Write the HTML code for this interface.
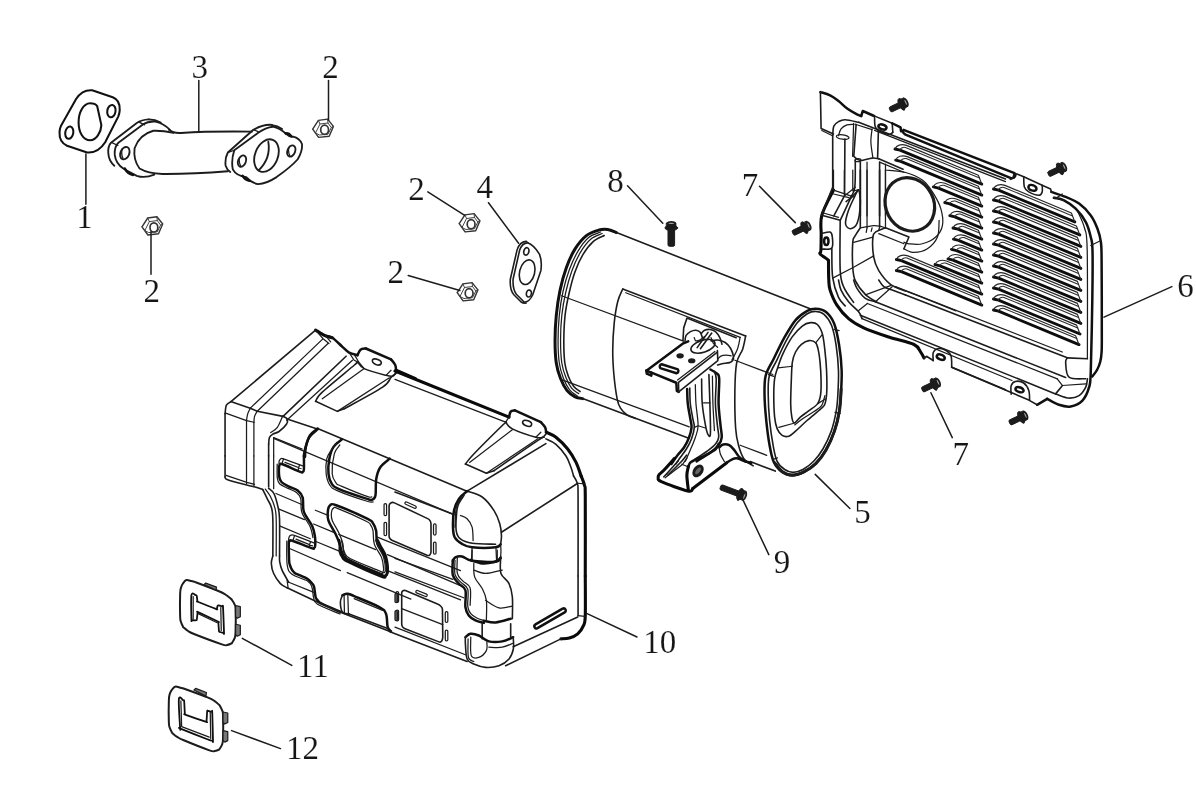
<!DOCTYPE html>
<html><head><meta charset="utf-8"><title>Muffler assembly</title>
<style>
html,body{margin:0;padding:0;background:#fff;}
body{width:1196px;height:811px;overflow:hidden;}
svg{display:block;}
.d path,.d line,.d ellipse,.d circle,.d polyline,.d rect,.d polygon{fill:none;stroke:#1c1c1c;stroke-width:1.6;vector-effect:non-scaling-stroke;stroke-linecap:round;stroke-linejoin:round;}
.d .pp path,.d .pp ellipse{stroke-width:1.85;}
.d .pp .t{stroke-width:1.3;}
.d .pp .k{stroke-width:2.5;}
.d .t{stroke-width:1.25;}
.d .k{stroke-width:2.5;stroke:#101010;}
.d .kk{stroke-width:3.1;stroke:#0a0a0a;}
.d .w{fill:#fff;}
.d .b{fill:#1c1c1c;}
.d .ld{stroke-width:1.5;}
text{font-family:"Liberation Serif",serif;font-size:33px;fill:#161616;text-anchor:middle;stroke:#fff;stroke-width:0.12px;}
</style></head><body>
<svg class="d" width="1196" height="811" viewBox="0 0 1196 811">
<rect x="0" y="0" width="1196" height="811" style="fill:#fff;stroke:none"/>
<!-- 00_defs.svg -->
<defs>
<g id="nut" style="stroke:#333">
<path style="stroke-width:1.4;stroke:#333" d="M-10.3,0.2 L-4.6,-8.6 L4.6,-9.9 L10.4,-2.6 L6.2,7.2 L-4.4,8.4 Z"/>
<path style="stroke-width:1;stroke:#444" d="M-10.3,0.2 L-7.5,4 L-4.4,8.4 M-7.5,4 L-3,-5 L-4.6,-8.6 M-3,-5 L5,-6 L8.3,-1.5 L5,5.2 L-3.5,6 L-7.5,4 M5,-6 L4.6,-9.9 M8.3,-1.5 L10.4,-2.6"/>
<ellipse style="stroke-width:1.7;stroke:#333" cx="1.6" cy="0.8" rx="3.9" ry="4.6"/>
</g>
<g id="boltS">
<rect class="b" x="-2.7" y="7" width="5.4" height="12.5" rx="1.5" style="stroke-width:1"/>
<ellipse class="b" cx="0" cy="6.6" rx="6.3" ry="2.7" style="stroke-width:1"/>
<rect class="b" x="-4.6" y="1.8" width="9.2" height="4" style="stroke-width:1"/>
<ellipse cx="0" cy="2" rx="3.9" ry="1.5" style="fill:#aaa;stroke-width:1.8"/>
</g>
<g id="boltL">
<rect class="b" x="-3.3" y="7" width="6.6" height="18" rx="1.5" style="stroke-width:1"/>
<ellipse class="b" cx="0" cy="6.6" rx="6.3" ry="2.7" style="stroke-width:1"/>
<rect class="b" x="-4.6" y="1.8" width="9.2" height="4" style="stroke-width:1"/>
<ellipse cx="0" cy="2" rx="3.9" ry="1.5" style="fill:#aaa;stroke-width:1.8"/>
</g>
<g id="boltX">
<rect class="b" x="-2.7" y="7" width="5.4" height="20.5" rx="1.5" style="stroke-width:1"/>
<ellipse class="b" cx="0" cy="6.6" rx="6.3" ry="2.7" style="stroke-width:1"/>
<rect class="b" x="-4.6" y="1.8" width="9.2" height="4" style="stroke-width:1"/>
<ellipse cx="0" cy="2" rx="3.9" ry="1.5" style="fill:#aaa;stroke-width:1.8"/>
</g>
</defs>

<!-- 10_gasket1.svg -->
<g transform="translate(50,80) scale(0.100334)">
<path style="stroke-width:2.05;stroke:#111" d="M110,455 L260,190 Q320,95 420,102 L625,172 Q700,200 695,300 Q692,340 680,365 L550,620 Q480,730 370,722 L170,655 Q90,620 95,520 Q97,485 110,455 Z"/>
<path style="stroke-width:2.05;stroke:#111" d="M400,232 C330,232 285,330 285,420 C285,520 330,600 400,600 C460,600 510,520 512,450 L470,260 C455,240 430,232 400,232 Z"/>
<ellipse style="stroke-width:2.05;stroke:#111" cx="612" cy="310" rx="41" ry="62" transform="rotate(10 612 310)"/>
<ellipse style="stroke-width:2.05;stroke:#111" cx="192" cy="525" rx="40" ry="62" transform="rotate(10 192 525)"/>
</g>

<!-- 11_pipe3.svg -->
<g transform="translate(100,105) scale(0.183946)" class="pp">
<!-- left flange front face -->
<path d="M380,135 Q345,98 300,90 Q260,88 235,105 L100,205 Q78,225 80,270 Q85,320 130,348 L200,385 Q245,400 295,378"/>
<!-- left flange back edge -->
<path d="M265,78 Q225,80 200,98 L60,205 Q42,225 45,262 Q48,305 78,330"/>
<path d="M265,78 Q300,78 330,95"/>
<path class="t" d="M210,92 L242,108 M62,203 L97,220"/>
<ellipse cx="135" cy="262" rx="24" ry="35" transform="rotate(22 135 262)"/>
<path class="t" d="M122,238 Q112,262 125,290"/>
<path class="k" d="M135,345 Q150,375 180,380"/>
<!-- pipe body -->
<path d="M400,152 Q340,138 290,140 Q215,160 188,235 Q180,300 215,345 Q260,372 340,375 Q500,376 695,360"/>
<path d="M375,135 Q400,155 440,152 Q600,142 825,145"/>
<!-- right flange front -->
<path d="M730,246 L862,150 Q900,122 940,118 Q975,125 1010,155 Q1030,175 1050,172 Q1085,180 1098,212 Q1102,250 1075,295 Q1040,335 960,392 Q905,428 860,430 Q825,425 795,392 Q740,385 722,350 Q712,300 730,246 Z"/>
<path d="M935,108 Q885,104 832,136 L695,258 Q678,290 683,330 Q690,352 708,364"/>
<path d="M935,110 Q965,112 990,130"/>
<path class="t" d="M836,134 L866,148 M697,257 L730,246"/>
<ellipse cx="905" cy="275" rx="62" ry="92" transform="rotate(22 905 275)"/>
<path d="M915,200 Q930,290 862,355"/>
<ellipse cx="772" cy="305" rx="21" ry="32" transform="rotate(22 772 305)"/>
<ellipse cx="1040" cy="250" rx="21" ry="32" transform="rotate(22 1040 250)"/>
<path class="t" d="M760,285 Q752,305 764,330 M1028,230 Q1020,252 1032,276"/>
<path class="k" d="M775,385 Q790,408 812,412"/>
<path class="k" d="M1010,155 Q1025,150 1040,170"/>
</g>

<!-- 12_nuts.svg -->
<use href="#nut" x="152.3" y="226.6"/>
<use href="#nut" x="323" y="129"/>
<use href="#nut" x="469.5" y="223.5"/>
<use href="#nut" x="467.5" y="292.5"/>

<!-- 13_gasket4.svg -->
<g transform="translate(340,140) scale(0.250836)">
<path d="M748,410 Q772,418 795,455 Q806,480 801,520 L768,618 Q752,650 733,645 L703,615 Q688,595 690,555 L716,440 Q726,410 748,410 Z"/>
<path d="M742,404 Q716,406 706,438 L679,555 Q676,598 694,618 L722,646 Q732,652 742,650"/>
<path class="t" d="M742,404 L750,410"/>
<ellipse cx="746" cy="527" rx="30" ry="50" transform="rotate(14 746 527)"/>
<ellipse cx="743" cy="444" rx="10" ry="15" transform="rotate(14 743 444)"/>
<ellipse cx="753" cy="612" rx="10" ry="14" transform="rotate(14 753 612)"/>
</g>

<!-- 20_muffler.svg -->
<g transform="translate(545,215) scale(0.250836)">
<!-- left cap rim -->
<path class="k" style="stroke-width:3" d="M285,70 C279.2,68.0 261.7,59.7 250,58 C238.3,56.3 229.2,56.0 215,60 C200.8,64.0 180.8,69.5 165,82 C149.2,94.5 133.3,113.7 120,135 C106.7,156.3 95.0,182.5 85,210 C75.0,237.5 66.7,268.3 60,300 C53.3,331.7 48.3,366.7 45,400 C41.7,433.3 40.0,468.3 40,500 C40.0,531.7 41.3,564.7 45,590 C48.7,615.3 54.8,633.7 62,652 C69.2,670.3 78.3,687.8 88,700 C97.7,712.2 109.7,719.7 120,725 C130.3,730.3 145.0,730.8 150,732"/>
<path class="t" d="M222,68 C214.0,71.7 189.2,77.2 174,90 C158.8,102.8 143.8,123.7 131,145 C118.2,166.3 106.8,191.5 97,218 C87.2,244.5 78.7,273.7 72,304 C65.3,334.3 60.3,367.3 57,400 C53.7,432.7 52.0,468.3 52,500 C52.0,531.7 53.5,565.0 57,590 C60.5,615.0 66.2,632.2 73,650 C79.8,667.8 88.8,685.2 98,697 C107.2,708.8 123.0,717.0 128,721"/>
<path class="t" d="M228,74 C220.3,77.8 196.7,84.2 182,97 C167.3,109.8 152.5,130.0 140,151 C127.5,172.0 116.5,197.0 107,223 C97.5,249.0 89.7,277.5 83,307 C76.3,336.5 70.5,367.8 67,400 C63.5,432.2 62.0,468.3 62,500 C62.0,531.7 63.5,565.5 67,590 C70.5,614.5 76.5,630.3 83,647 C89.5,663.7 97.5,679.2 106,690 C114.5,700.8 129.3,708.3 134,712"/>
<path d="M236,82 C228.7,86.0 206.2,93.3 192,106 C177.8,118.7 163.2,137.7 151,158 C138.8,178.3 128.2,202.3 119,228 C109.8,253.7 102.5,283.3 96,312 C89.5,340.7 83.5,368.7 80,400 C76.5,431.3 75.2,468.3 75,500 C74.8,531.7 76.0,566.2 79,590 C82.0,613.8 87.2,627.5 93,643 C98.8,658.5 106.2,672.8 114,683 C121.8,693.2 135.7,700.5 140,704"/>
<!-- body lines -->
<path d="M285,70 L1062,376"/>
<path class="t" d="M66,322 L552,503 M757,579 L908,636"/>
<path class="t" d="M63,655 L575,845 M778,918 L884,958"/>
<path d="M150,732 L568,888 M818,983 L918,1021"/>
<!-- heat panel -->
<path d="M800,482 L310,295" />
<path d="M310,295 C306.7,303.3 295.7,322.5 290,345 C284.3,367.5 279.3,397.5 276,430 C272.7,462.5 270.2,505.0 270,540 C269.8,575.0 272.0,607.5 275,640 C278.0,672.5 283.7,713.3 288,735 C292.3,756.7 294.5,759.7 301,770 C307.5,780.3 317.2,790.2 327,797 C336.8,803.8 354.5,808.7 360,811"/>
<path class="t" d="M322,310 L778,488"/>
<path d="M800,482 C798.0,490.8 794.0,517.0 788,535 C782.0,553.0 769.2,562.5 764,590 C758.8,617.5 757.7,656.7 757,700 C756.3,743.3 757.5,813.3 760,850 C762.5,886.7 766.2,899.2 772,920 C777.8,940.8 785.3,961.7 795,975 C804.7,988.3 824.2,995.8 830,1000"/>
<path class="t" d="M778,488 C776.2,495.8 772.5,520.0 767,535 C761.5,550.0 748.7,570.8 745,578"/>
<!-- recess -->
<path d="M550,500 L553,450 L566,411 L762,489"/>
</g>

<!-- 21_muffler_cap.svg -->
<g transform="translate(700,295) scale(0.167645)">
<!-- outer rim -->
<path class="k" d="M690,82 C708.3,82.8 731.7,85.3 750,100 C768.3,114.7 786.7,136.7 800,170 C813.3,203.3 822.5,253.3 830,300 C837.5,346.7 843.3,400.0 845,450 C846.7,500.0 842.5,559.0 840,600 C837.5,641.0 836.7,660.0 830,696 C823.3,732.0 813.3,777.7 800,816 C786.7,854.3 768.3,894.3 750,926 C731.7,957.7 711.7,984.3 690,1006 C668.3,1027.7 643.3,1044.3 620,1056 C596.7,1067.7 571.7,1076.0 550,1076 C528.3,1076.0 508.3,1069.3 490,1056 C471.7,1042.7 452.5,1022.7 440,996 C427.5,969.3 422.5,937.7 415,896 C407.5,854.3 400.0,795.3 395,746 C390.0,696.7 385.5,644.3 385,600 C384.5,555.7 382.8,516.7 392,480 C401.2,443.3 422.0,416.7 440,380 C458.0,343.3 478.3,298.3 500,260 C521.7,221.7 546.7,177.5 570,150 C593.3,122.5 620.0,106.3 640,95 C660.0,83.7 671.7,81.2 690,82 Z"/>
<path d="M690,98 C706.7,98.5 724.2,101.0 740,115 C755.8,129.0 773.0,151.2 785,182 C797.0,212.8 805.2,255.3 812,300 C818.8,344.7 824.3,400.0 826,450 C827.7,500.0 824.3,559.0 822,600 C819.7,641.0 818.5,660.7 812,696 C805.5,731.3 796.0,775.2 783,812 C770.0,848.8 751.5,887.0 734,917 C716.5,947.0 698.0,971.3 678,992 C658.0,1012.7 634.5,1030.0 614,1041 C593.5,1052.0 573.2,1058.0 555,1058 C536.8,1058.0 520.8,1052.0 505,1041 C489.2,1030.0 471.5,1016.2 460,992 C448.5,967.8 443.5,937.0 436,896 C428.5,855.0 419.8,795.3 415,746 C410.2,696.7 407.3,643.5 407,600 C406.7,556.5 404.2,520.8 413,485 C421.8,449.2 443.0,420.8 460,385 C477.0,349.2 495.0,306.7 515,270 C535.0,233.3 559.2,191.3 580,165 C600.8,138.7 621.7,123.2 640,112 C658.3,100.8 673.3,97.5 690,98 Z"/>
<path d="M842,560 C840.3,581.7 838.7,648.0 832,690 C825.3,732.0 815.3,773.0 802,812 C788.7,851.0 770.3,892.0 752,924 C733.7,956.0 713.8,982.3 692,1004 C670.2,1025.7 644.7,1042.3 621,1054 C597.3,1065.7 571.5,1074.0 550,1074 C528.5,1074.0 509.5,1066.3 492,1054 C474.5,1041.7 452.8,1009.0 445,1000" style="stroke-width:3"/>
<!-- inner face -->
<path d="M660,165 C675.0,163.5 688.3,164.8 700,176 C711.7,187.2 722.5,206.3 730,232 C737.5,257.7 740.8,293.7 745,330 C749.2,366.3 753.2,408.3 755,450 C756.8,491.7 757.7,546.7 756,580 C754.3,613.3 751.0,633.3 745,650 C739.0,666.7 737.5,663.8 720,680 C702.5,696.2 665.0,725.0 640,747 C615.0,769.0 588.3,796.2 570,812 C551.7,827.8 543.3,837.8 530,842 C516.7,846.2 501.7,844.5 490,837 C478.3,829.5 467.5,815.3 460,797 C452.5,778.7 448.3,759.8 445,727 C441.7,694.2 440.0,637.8 440,600 C440.0,562.2 441.3,527.0 445,500 C448.7,473.0 453.7,463.0 462,438 C470.3,413.0 480.3,381.3 495,350 C509.7,318.7 530.8,277.5 550,250 C569.2,222.5 591.7,199.2 610,185 C628.3,170.8 645.0,166.5 660,165 Z"/>
<!-- hole -->
<path d="M650,272 C664.2,270.3 680.7,275.3 690,285 C699.3,294.7 701.7,310.8 706,330 C710.3,349.2 713.3,371.7 716,400 C718.7,428.3 721.3,468.3 722,500 C722.7,531.7 723.3,565.3 720,590 C716.7,614.7 713.7,631.3 702,648 C690.3,664.7 667.0,676.8 650,690 C633.0,703.2 614.7,714.8 600,727 C585.3,739.2 570.7,762.5 562,763 C553.3,763.5 551.5,748.8 548,730 C544.5,711.2 541.5,688.3 541,650 C540.5,611.7 543.3,541.7 545,500 C546.7,458.3 546.8,426.7 551,400 C555.2,373.3 561.0,357.5 570,340 C579.0,322.5 591.7,306.3 605,295 C618.3,283.7 635.8,273.7 650,272 Z"/>
<path class="t" d="M465,435 L551,425 M690,285 L730,235 M702,648 L748,620 M560,765 L470,790"/>
<path class="t" d="M745,600 C741.7,610.0 735.8,644.2 725,660 C714.2,675.8 699.2,681.7 680,695 C660.8,708.3 629.2,726.7 610,740 C590.8,753.3 572.5,769.2 565,775"/>
<path class="t" d="M800,205 L830,212 M408,475 L440,485 M435,980 L462,972 M805,700 L836,706"/>
</g>

<!-- 22_bracket.svg -->
<!-- bracket top : Z6 -->
<g transform="translate(635,305) scale(0.108696)">
<!-- white mask for plate over lines -->
<path class="w" d="M105,600 L470,340 L760,415 L760,510 L400,800 L385,715 Z" style="stroke:none"/>
<path class="k" d="M105,605 L445,352 L490,335"/>
<path class="k" d="M105,600 L108,632 L150,650 L152,622 L380,715 L385,790 L402,800"/>
<path class="k" d="M108,605 L150,622"/>
<path d="M402,800 L400,712 L752,438"/>
<path d="M402,800 L762,512 L758,420"/>
<path class="t" d="M392,690 L735,428"/>
<ellipse class="b" cx="415" cy="468" rx="27" ry="16"/>
<ellipse class="b" cx="522" cy="513" rx="27" ry="16"/>
<path class="k" d="M245,545 L395,593 A22,22 0 0 1 382,628 L232,580 A22,22 0 0 1 245,545 Z" style="stroke-width:2.4"/>
<!-- bolt head / weld -->
<ellipse class="w" cx="625" cy="380" rx="115" ry="55" transform="rotate(-18 625 380)"/>
<path d="M460,330 C461.7,321.7 461.7,294.2 470,280 C478.3,265.8 495.0,253.0 510,245 C525.0,237.0 545.0,231.2 560,232 C575.0,232.8 590.0,238.7 600,250 C610.0,261.3 616.7,291.7 620,300"/>
<path d="M610,262 C615.0,257.0 626.7,238.2 640,232 C653.3,225.8 673.3,222.8 690,225 C706.7,227.2 725.0,232.5 740,245 C755.0,257.5 770.0,280.8 780,300 C790.0,319.2 796.7,350.0 800,360"/>
<path d="M700,330 C710.0,328.7 738.3,319.5 760,322 C781.7,324.5 810.0,332.0 830,345 C850.0,358.0 867.5,379.2 880,400 C892.5,420.8 901.7,451.7 905,470 C908.3,488.3 905.8,500.0 900,510 C894.2,520.0 886.7,525.0 870,530 C853.3,535.0 818.3,536.3 800,540 C781.7,543.7 766.7,550.0 760,552"/>
<path class="t" d="M760,500 C765.0,495.0 776.7,476.3 790,470 C803.3,463.7 824.2,462.3 840,462 C855.8,461.7 877.5,467.0 885,468"/>
<path d="M572,392 L672,252 M602,402 L706,258"/>
<path class="t" d="M545,300 C547.5,305.0 550.8,326.7 560,330 C569.2,333.3 586.7,326.7 600,320 C613.3,313.3 633.3,295.0 640,290"/>
<path class="t" d="M700,300 C703.3,308.3 710.0,335.0 720,350 C730.0,365.0 753.3,383.3 760,390"/>
</g>
<!-- strap: Z7 -->
<g transform="translate(640,362) scale(0.125733)">
<path class="k" d="M375,215 C375.8,234.2 375.8,290.8 380,330 C384.2,369.2 395.0,418.3 400,450 C405.0,481.7 411.7,495.0 410,520 C408.3,545.0 400.0,573.3 390,600 C380.0,626.7 365.0,656.7 350,680 C335.0,703.3 316.7,718.2 300,740 C283.3,761.8 258.3,799.2 250,811"/>
<path d="M396,208 C396.7,228.3 396.0,289.7 400,330 C404.0,370.3 414.7,418.3 420,450 C425.3,481.7 433.7,493.3 432,520 C430.3,546.7 420.3,581.7 410,610 C399.7,638.3 385.0,665.0 370,690 C355.0,715.0 334.2,739.8 320,760 C305.8,780.2 290.8,802.5 285,811"/>
<path class="t" d="M440,180 C440.8,205.0 441.3,275.8 445,330 C448.7,384.2 462.8,460.0 462,505 C461.2,550.0 450.3,567.5 440,600 C429.7,632.5 413.3,668.3 400,700 C386.7,731.7 366.7,775.0 360,790"/>
<path d="M490,135 C490.8,167.5 490.0,269.2 495,330 C500.0,390.8 512.5,459.2 520,500 C527.5,540.8 533.3,563.3 540,575 C546.7,586.7 557.3,609.2 560,570 C562.7,530.8 558.0,418.3 556,340 C554.0,261.7 549.3,140.0 548,100"/>
<path class="t" d="M505,325 L558,325"/>
<path class="t" d="M576,112 C576.7,148.3 577.3,257.8 580,330 C582.7,402.2 590.0,509.2 592,545"/>
<path class="k" d="M560,60 C568.7,65.3 600.3,79.5 612,92 C623.7,104.5 627.8,95.3 630,135 C632.2,174.7 623.3,269.2 625,330 C626.7,390.8 635.8,455.0 640,500 C644.2,545.0 652.5,573.3 650,600 C647.5,626.7 640.0,640.0 625,660 C610.0,680.0 589.2,698.3 560,720 C530.8,741.7 468.3,778.3 450,790"/>
<path d="M588,72 C591.0,82.0 604.0,89.0 606,132 C608.0,175.0 598.5,268.7 600,330 C601.5,391.3 610.7,455.3 615,500 C619.3,544.7 628.2,573.0 626,598 C623.8,623.0 616.3,632.2 602,650 C587.7,667.8 567.0,685.0 540,705 C513.0,725.0 456.7,759.2 440,770"/>
<path class="t" d="M432,520 L462,507 M462,507 L520,525"/>
</g>
<!-- foot: Z8 -->
<g transform="translate(645,425) scale(0.125733)">
<path class="kk" d="M235,265 C220.8,280.8 170.5,338.3 150,360 C129.5,381.7 119.5,385.0 112,395 C104.5,405.0 102.0,410.8 105,420 C108.0,429.2 90.8,432.5 130,450 C169.2,467.5 298.3,515.8 340,525 C381.7,534.2 373.3,508.3 380,505"/>
<path d="M330,240 C323.3,248.3 315.0,263.3 290,290 C265.0,316.7 198.3,381.7 180,400"/>
<path class="k" d="M585,150 C580.8,157.5 579.2,179.2 560,195 C540.8,210.8 496.7,231.7 470,245 C443.3,258.3 418.3,265.8 400,275 C381.7,284.2 369.2,290.8 360,300 C350.8,309.2 347.5,325.0 345,330"/>
<path class="kk" d="M380,505 L650,300"/>
<path class="k" d="M650,300 C656.7,295.8 676.7,280.8 690,275 C703.3,269.2 711.7,262.5 730,265 C748.3,267.5 780.8,283.8 800,290 C819.2,296.2 837.5,300.0 845,302"/>
<path d="M265,285 C250.8,300.8 199.2,358.8 180,380 C160.8,401.2 155.0,406.7 150,412"/>
<path class="t" d="M160,420 L300,312 L335,262"/>
<path class="t" d="M292,312 L342,332"/>
<path class="kk" d="M345,330 C343.0,341.7 333.0,368.3 333,400 C333.0,431.7 343.0,500.0 345,520"/>
<ellipse cx="422" cy="365" rx="27" ry="44" transform="rotate(35 422 365)" style="stroke-width:3;fill:#666"/>
<path class="k" d="M590,178 C595.3,174.2 608.7,158.0 622,155 C635.3,152.0 655.3,152.5 670,160 C684.7,167.5 696.7,184.2 710,200 C723.3,215.8 735.0,240.0 750,255 C765.0,270.0 791.7,284.2 800,290"/>
<path class="t" d="M590,180 C591.7,188.7 593.0,213.3 600,232 C607.0,250.7 626.7,282.0 632,292"/>
</g>

<!-- 30_bolts.svg -->
<use href="#boltL" transform="translate(671.3,221.3)"/>
<use href="#boltS" transform="translate(810.4,224.8) rotate(64.5)"/>
<use href="#boltS" transform="translate(907.5,101.5) rotate(64.5)"/>
<use href="#boltS" transform="translate(1066,166) rotate(64.5)"/>
<use href="#boltS" transform="translate(939.8,381.5) rotate(64.5)"/>
<use href="#boltS" transform="translate(1027.2,414.5) rotate(64.5)"/>
<use href="#boltX" transform="translate(746.2,496.7) rotate(110.6)"/>

<!-- 40_cover_louvers.svg -->
<g>
<path class="k" style="stroke-width:2.9;stroke:#0c0c0c" d="M993.5,189.0 L998.5,190.2 L1074.8,221.9"/>
<path style="stroke-width:1.15;stroke:#262626" d="M993.5,189.0 C995.0,185.2 999.5,183.6 1005.0,185.4 L1071.4,213.0 L1074.8,221.9"/>
<path style="stroke-width:1.05;stroke:#2a2a2a" d="M998.5,190.2 C998.5,188.5 1001.0,187.0 1004.0,187.4 L1072.6,215.9"/>
<path class="k" style="stroke-width:2.9;stroke:#0c0c0c" d="M993.5,200.0 L998.5,201.2 L1079.8,234.9"/>
<path style="stroke-width:1.15;stroke:#262626" d="M993.5,200.0 C995.0,196.2 999.5,194.6 1005.0,196.4 L1076.4,226.0 L1079.8,234.9"/>
<path style="stroke-width:1.05;stroke:#2a2a2a" d="M998.5,201.2 C998.5,199.5 1001.0,198.0 1004.0,198.4 L1077.6,228.9"/>
<path class="k" style="stroke-width:2.9;stroke:#0c0c0c" d="M993.5,211.0 L998.5,212.2 L1080.8,246.4"/>
<path style="stroke-width:1.15;stroke:#262626" d="M993.5,211.0 C995.0,207.2 999.5,205.6 1005.0,207.4 L1077.4,237.4 L1080.8,246.4"/>
<path style="stroke-width:1.05;stroke:#2a2a2a" d="M998.5,212.2 C998.5,210.5 1001.0,209.0 1004.0,209.4 L1078.6,240.4"/>
<path class="k" style="stroke-width:2.9;stroke:#0c0c0c" d="M993.5,222.0 L998.5,223.2 L1080.8,257.4"/>
<path style="stroke-width:1.15;stroke:#262626" d="M993.5,222.0 C995.0,218.2 999.5,216.6 1005.0,218.4 L1077.4,248.4 L1080.8,257.4"/>
<path style="stroke-width:1.05;stroke:#2a2a2a" d="M998.5,223.2 C998.5,221.5 1001.0,220.0 1004.0,220.4 L1078.6,251.4"/>
<path class="k" style="stroke-width:2.9;stroke:#0c0c0c" d="M993.5,233.0 L998.5,234.2 L1080.8,268.4"/>
<path style="stroke-width:1.15;stroke:#262626" d="M993.5,233.0 C995.0,229.2 999.5,227.6 1005.0,229.4 L1077.4,259.4 L1080.8,268.4"/>
<path style="stroke-width:1.05;stroke:#2a2a2a" d="M998.5,234.2 C998.5,232.5 1001.0,231.0 1004.0,231.4 L1078.6,262.4"/>
<path class="k" style="stroke-width:2.9;stroke:#0c0c0c" d="M993.5,244.0 L998.5,245.2 L1080.8,279.4"/>
<path style="stroke-width:1.15;stroke:#262626" d="M993.5,244.0 C995.0,240.2 999.5,238.6 1005.0,240.4 L1077.4,270.4 L1080.8,279.4"/>
<path style="stroke-width:1.05;stroke:#2a2a2a" d="M998.5,245.2 C998.5,243.5 1001.0,242.0 1004.0,242.4 L1078.6,273.4"/>
<path class="k" style="stroke-width:2.9;stroke:#0c0c0c" d="M993.5,255.0 L998.5,256.2 L1080.8,290.4"/>
<path style="stroke-width:1.15;stroke:#262626" d="M993.5,255.0 C995.0,251.2 999.5,249.6 1005.0,251.4 L1077.4,281.4 L1080.8,290.4"/>
<path style="stroke-width:1.05;stroke:#2a2a2a" d="M998.5,256.2 C998.5,254.5 1001.0,253.0 1004.0,253.4 L1078.6,284.4"/>
<path class="k" style="stroke-width:2.9;stroke:#0c0c0c" d="M993.5,266.0 L998.5,267.2 L1080.8,301.4"/>
<path style="stroke-width:1.15;stroke:#262626" d="M993.5,266.0 C995.0,262.2 999.5,260.6 1005.0,262.4 L1077.4,292.4 L1080.8,301.4"/>
<path style="stroke-width:1.05;stroke:#2a2a2a" d="M998.5,267.2 C998.5,265.5 1001.0,264.0 1004.0,264.4 L1078.6,295.4"/>
<path class="k" style="stroke-width:2.9;stroke:#0c0c0c" d="M993.5,277.0 L998.5,278.2 L1080.8,312.4"/>
<path style="stroke-width:1.15;stroke:#262626" d="M993.5,277.0 C995.0,273.2 999.5,271.6 1005.0,273.4 L1077.4,303.4 L1080.8,312.4"/>
<path style="stroke-width:1.05;stroke:#2a2a2a" d="M998.5,278.2 C998.5,276.5 1001.0,275.0 1004.0,275.4 L1078.6,306.4"/>
<path class="k" style="stroke-width:2.9;stroke:#0c0c0c" d="M993.5,288.0 L998.5,289.2 L1080.8,323.4"/>
<path style="stroke-width:1.15;stroke:#262626" d="M993.5,288.0 C995.0,284.2 999.5,282.6 1005.0,284.4 L1077.4,314.4 L1080.8,323.4"/>
<path style="stroke-width:1.05;stroke:#2a2a2a" d="M998.5,289.2 C998.5,287.5 1001.0,286.0 1004.0,286.4 L1078.6,317.4"/>
<path class="k" style="stroke-width:2.9;stroke:#0c0c0c" d="M993.5,299.0 L998.5,300.2 L1080.0,334.0"/>
<path style="stroke-width:1.15;stroke:#262626" d="M993.5,299.0 C995.0,295.2 999.5,293.6 1005.0,295.4 L1076.6,325.1 L1080.0,334.0"/>
<path style="stroke-width:1.05;stroke:#2a2a2a" d="M998.5,300.2 C998.5,298.5 1001.0,297.0 1004.0,297.4 L1077.8,328.0"/>
<path class="k" style="stroke-width:2.9;stroke:#0c0c0c" d="M993.5,310.0 L998.5,311.2 L1079.0,344.6"/>
<path style="stroke-width:1.15;stroke:#262626" d="M993.5,310.0 C995.0,306.2 999.5,304.6 1005.0,306.4 L1075.6,335.7 L1079.0,344.6"/>
<path style="stroke-width:1.05;stroke:#2a2a2a" d="M998.5,311.2 C998.5,309.5 1001.0,308.0 1004.0,308.4 L1076.8,338.6"/>
<path class="k" style="stroke-width:2.9;stroke:#0c0c0c" d="M895.0,149.0 L900.0,150.2 L981.8,184.1"/>
<path style="stroke-width:1.15;stroke:#262626" d="M895.0,149.0 C896.5,145.2 901.0,143.6 906.5,145.4 L978.4,175.2 L981.8,184.1"/>
<path style="stroke-width:1.05;stroke:#2a2a2a" d="M900.0,150.2 C900.0,148.5 902.5,147.0 905.5,147.4 L979.6,178.1"/>
<path class="k" style="stroke-width:2.9;stroke:#0c0c0c" d="M895.7,160.2 L900.7,161.4 L981.8,195.1"/>
<path style="stroke-width:1.15;stroke:#262626" d="M895.7,160.2 C897.2,156.4 901.7,154.8 907.2,156.6 L978.4,186.2 L981.8,195.1"/>
<path style="stroke-width:1.05;stroke:#2a2a2a" d="M900.7,161.4 C900.7,159.7 903.2,158.2 906.2,158.6 L979.6,189.1"/>
<path class="k" style="stroke-width:2.9;stroke:#0c0c0c" d="M933.4,186.9 L938.4,188.1 L981.8,206.1"/>
<path style="stroke-width:1.15;stroke:#262626" d="M933.4,186.9 C934.9,183.1 939.4,181.5 944.9,183.3 L978.4,197.2 L981.8,206.1"/>
<path style="stroke-width:1.05;stroke:#2a2a2a" d="M938.4,188.1 C938.4,186.4 940.9,184.9 943.9,185.3 L979.6,200.1"/>
<path class="k" style="stroke-width:2.9;stroke:#0c0c0c" d="M944.8,202.6 L949.8,203.8 L981.8,217.1"/>
<path style="stroke-width:1.15;stroke:#262626" d="M944.8,202.6 C946.3,198.8 950.8,197.2 956.3,199.0 L978.4,208.2 L981.8,217.1"/>
<path style="stroke-width:1.05;stroke:#2a2a2a" d="M949.8,203.8 C949.8,202.1 952.3,200.6 955.3,201.0 L979.6,211.1"/>
<path class="k" style="stroke-width:2.9;stroke:#0c0c0c" d="M949.8,215.7 L954.8,216.9 L981.8,228.1"/>
<path style="stroke-width:1.15;stroke:#262626" d="M949.8,215.7 C951.3,211.9 955.8,210.3 961.3,212.1 L978.4,219.2 L981.8,228.1"/>
<path style="stroke-width:1.05;stroke:#2a2a2a" d="M954.8,216.9 C954.8,215.2 957.3,213.7 960.3,214.1 L979.6,222.1"/>
<path class="k" style="stroke-width:2.9;stroke:#0c0c0c" d="M953.0,228.0 L958.0,229.2 L981.8,239.1"/>
<path style="stroke-width:1.15;stroke:#262626" d="M953.0,228.0 C954.5,224.2 959.0,222.6 964.5,224.4 L978.4,230.2 L981.8,239.1"/>
<path style="stroke-width:1.05;stroke:#2a2a2a" d="M958.0,229.2 C958.0,227.5 960.5,226.0 963.5,226.4 L979.6,233.1"/>
<path class="k" style="stroke-width:2.9;stroke:#0c0c0c" d="M953.5,239.2 L958.5,240.4 L981.8,250.1"/>
<path style="stroke-width:1.15;stroke:#262626" d="M953.5,239.2 C955.0,235.4 959.5,233.8 965.0,235.6 L978.4,241.2 L981.8,250.1"/>
<path style="stroke-width:1.05;stroke:#2a2a2a" d="M958.5,240.4 C958.5,238.7 961.0,237.2 964.0,237.6 L979.6,244.1"/>
<path class="k" style="stroke-width:2.9;stroke:#0c0c0c" d="M951.5,249.4 L956.5,250.6 L981.8,261.1"/>
<path style="stroke-width:1.15;stroke:#262626" d="M951.5,249.4 C953.0,245.6 957.5,244.0 963.0,245.8 L978.4,252.2 L981.8,261.1"/>
<path style="stroke-width:1.05;stroke:#2a2a2a" d="M956.5,250.6 C956.5,248.9 959.0,247.4 962.0,247.8 L979.6,255.1"/>
<path class="k" style="stroke-width:2.9;stroke:#0c0c0c" d="M948.0,258.9 L953.0,260.1 L981.8,272.1"/>
<path style="stroke-width:1.15;stroke:#262626" d="M948.0,258.9 C949.5,255.1 954.0,253.5 959.5,255.3 L978.4,263.2 L981.8,272.1"/>
<path style="stroke-width:1.05;stroke:#2a2a2a" d="M953.0,260.1 C953.0,258.4 955.5,256.9 958.5,257.3 L979.6,266.1"/>
<path class="k" style="stroke-width:2.9;stroke:#0c0c0c" d="M935.0,264.6 L940.0,265.8 L981.8,283.1"/>
<path style="stroke-width:1.15;stroke:#262626" d="M935.0,264.6 C936.5,260.8 941.0,259.2 946.5,261.0 L978.4,274.2 L981.8,283.1"/>
<path style="stroke-width:1.05;stroke:#2a2a2a" d="M940.0,265.8 C940.0,264.1 942.5,262.6 945.5,263.0 L979.6,277.1"/>
<path class="k" style="stroke-width:2.9;stroke:#0c0c0c" d="M896.4,259.5 L901.4,260.7 L981.8,294.1"/>
<path style="stroke-width:1.15;stroke:#262626" d="M896.4,259.5 C897.9,255.7 902.4,254.1 907.9,255.9 L978.4,285.2 L981.8,294.1"/>
<path style="stroke-width:1.05;stroke:#2a2a2a" d="M901.4,260.7 C901.4,259.0 903.9,257.5 906.9,257.9 L979.6,288.1"/>
<path class="k" style="stroke-width:2.9;stroke:#0c0c0c" d="M896.4,270.5 L901.4,271.7 L981.8,305.1"/>
<path style="stroke-width:1.15;stroke:#262626" d="M896.4,270.5 C897.9,266.7 902.4,265.1 907.9,266.9 L978.4,296.2 L981.8,305.1"/>
<path style="stroke-width:1.05;stroke:#2a2a2a" d="M901.4,271.7 C901.4,270.0 903.9,268.5 906.9,268.9 L979.6,299.1"/>
<ellipse cx="909.8" cy="204.4" rx="24" ry="27.5" transform="rotate(-28 909.8 204.4)" style="stroke-width:3.2"/>
</g>

<!-- 41_cover_outline.svg -->
<!-- outer outline in target coords -->
<g>
<path class="k" d="M820.4,92.1 C822.0,92.6 827.1,93.8 830.1,95.3 C833.1,96.8 835.6,98.8 838.5,101 C841.4,103.2 844.4,106.6 847.5,108.8 C850.6,111.0 854.7,113.2 857,114.4 C859.3,115.6 860.5,115.7 861.2,116"/>
<path class="k" d="M861.2,116 L862.8,111 L874.1,116"/>
<path d="M820.4,92.1 L821.1,128.6 L833.5,134"/>
<path class="t" d="M821.8,130.5 L832,135.5"/>
<!-- rib -->
<path class="k" d="M903.5,129.8 L1014.5,173.2 Q1016.5,175.5 1014,177.6 L1011.5,178.4 L905.5,134.6 Q901.2,132 903.5,129.8 Z"/>
<!-- top-right corner & right edge -->
<path class="k" d="M1051.4,191.9 C1053.8,192.7 1061.0,195.0 1065.6,196.9 C1070.2,198.8 1074.9,200.5 1079.1,203.6 C1083.3,206.7 1087.7,211.2 1090.8,215.4 C1093.9,219.6 1095.8,224.3 1097.5,228.8 C1099.2,233.3 1100.2,237.0 1100.9,242.2 C1101.6,247.4 1101.4,245.4 1101.6,260 C1101.8,274.6 1101.8,314.7 1101.8,330 C1101.8,345.3 1101.9,346.7 1101.6,352 C1101.3,357.3 1101.0,359.0 1100.2,362 C1099.4,365.0 1098.3,367.6 1097,370 C1095.7,372.4 1093.1,375.4 1092.3,376.5"/>
<path class="k" d="M1053.9,197.8 C1055.6,198.2 1060.4,198.5 1064,200.3 C1067.6,202.1 1072.1,205.1 1075.7,208.7 C1079.3,212.3 1083.3,217.3 1085.8,222.1 C1088.3,226.8 1089.7,232.4 1090.8,237.2 C1091.9,241.9 1092.2,240.1 1092.5,250.6 C1092.8,261.1 1092.6,280.0 1092.3,300 C1092.0,320.0 1091.3,355.9 1090.8,370.4 C1090.3,384.9 1090.5,382.2 1089.1,387.2 C1087.7,392.2 1085.5,397.4 1082.4,400.6 C1079.3,403.8 1074.6,405.8 1070.7,406.5 C1066.8,407.2 1062.8,406.1 1058.9,404.8 C1055.0,403.5 1049.2,399.9 1047.2,398.9"/>
<path class="k" d="M1047.2,398.9 L1037.1,404.8"/>
<path class="t" d="M1078,212 C1079.1,214.7 1083.0,221.7 1084.5,228 C1086.0,234.3 1086.7,228.2 1087.2,250 C1087.7,271.8 1087.4,340.6 1087.4,358.7"/>
<!-- bottom edge -->
<path d="M1037.1,404.8 L1028.8,400.1 L951.7,367.2"/>
<path class="kk" d="M828.5,260.5 C828.5,263.8 828.5,275.1 828.8,280 C829.1,284.9 828.8,285.9 830.1,290.1 C831.5,294.3 833.8,300.4 836.9,305.1 C840.0,309.9 844.1,314.8 848.6,318.6 C853.1,322.4 857.0,324.7 863.7,327.8 C870.4,330.9 880.4,334.2 888.8,337 C897.2,339.8 908.7,342.0 914,344.5 C919.3,347.0 919.0,349.9 920.7,352.1 C922.4,354.4 923.5,357.0 924,358"/>
<path d="M924,358 L926.5,356.3 L933.2,360.5"/>
<!-- left edge -->
<path class="kk" d="M833.5,190.1 C831.5,194.3 823.8,207.8 821.8,215.3 C819.8,222.8 821.4,229.1 821.2,235 C821.1,240.9 821.1,247.4 820.9,250.5 C820.7,253.6 819.1,252.4 820.1,253.8 C821.1,255.2 825.4,257.8 826.8,258.9 C828.2,260.0 828.2,260.2 828.5,260.5"/>
<path d="M832.7,135.3 L832.7,187.3 L833.5,190.1"/>
</g>

<!-- 42_cover_details.svg -->
<!-- C1: top-left -->
<g transform="translate(805,80) scale(0.167645)">
<path d="M412,214 L520,258 L524,312"/>
<path d="M415,225 C415.5,233.3 414.5,262.5 418,275 C421.5,287.5 422.3,291.7 436,300 C449.7,308.3 485.3,323.0 500,325 C514.7,327.0 520.0,314.2 524,312"/>
<ellipse class="k" cx="462" cy="280" rx="25" ry="14" transform="rotate(20 462 280)"/>
<path class="k" d="M520,258 L570,283 L573,306"/>
<path d="M165,332 C166.2,322.5 166.2,289.0 172,275 C177.8,261.0 188.7,254.3 200,248 C211.3,241.7 220.0,236.3 240,237 C260.0,237.7 306.7,249.5 320,252"/>
<path class="t" d="M200,332 C202.5,325.3 206.7,302.7 215,292 C223.3,281.3 237.2,272.7 250,268 C262.8,263.3 285.0,264.7 292,264"/>
<ellipse class="t" cx="225" cy="340" rx="38" ry="13" transform="rotate(8 225 340)"/>
<path d="M238,352 L236,690 L172,811"/>
<path d="M165,640 L100,800"/>
<path class="t" d="M290,258 L284,455"/>
<path d="M300,480 C299.5,506.7 301.7,603.3 297,640 C292.3,676.7 280.7,685.8 272,700 C263.3,714.2 249.5,720.8 245,725"/>
<path class="t" d="M170,680 L262,702 M236,690 L300,640"/>
<!-- box -->
<path d="M320,252 L1196,590"/>
<path class="t" d="M300,264 L400,296 M415,300 L1196,606"/>
<path d="M305,265 L291,455 L312,473"/>
<path d="M312,473 C316.7,474.2 325.3,481.2 340,480 C354.7,478.8 383.3,467.7 400,466 C416.7,464.3 433.3,469.3 440,470"/>
<path class="t" d="M400,292 C398.8,305.0 392.2,341.3 393,370 C393.8,398.7 403.0,448.3 405,464"/>
<path d="M438,300 L433,468"/>
<ellipse class="t" cx="316" cy="478" rx="18" ry="9"/>
<path d="M440,470 L585,532"/>
<path class="t" d="M445,490 L590,550"/>
<path d="M330,490 L330,811 M445,490 L445,811"/>
<path class="t" d="M370,490 L370,811 M480,502 L480,811"/>
</g>
<!-- C5: left column lower -->
<g transform="translate(805,170) scale(0.167645)">
<path d="M330,0 L330,342 M445,0 L445,340"/>
<path class="t" d="M370,0 L370,345 M480,0 L480,345"/>
<path class="t" d="M170,0 L170,120 M235,0 L235,140 M285,0 L285,125 L320,118"/>
<path d="M100,270 L210,300 L270,172 L320,118"/>
<path class="t" d="M170,120 L290,160 M105,255 L200,282"/>
<path d="M320,120 C325.3,127.5 331.3,167.5 330,200 C328.7,232.5 321.7,290.0 312,315 C302.3,340.0 283.7,348.8 272,350 C260.3,351.2 244.3,339.5 242,322 C239.7,304.5 248.7,272.8 258,245 C267.3,217.2 287.7,175.8 298,155 C308.3,134.2 314.7,112.5 320,120 Z"/>
<path d="M100,378 C108.3,376.7 139.5,366.3 150,370 C160.5,373.7 161.3,384.2 163,400 C164.7,415.8 169.7,453.0 160,465 C150.3,477.0 114.2,470.8 105,472"/>
<ellipse class="k" cx="127" cy="425" rx="13" ry="23"/>
<path d="M160,470 C160.8,498.3 158.3,591.7 165,640 C171.7,688.3 187.5,731.5 200,760 C212.5,788.5 233.3,802.5 240,811"/>
<path d="M210,300 C210.0,350.0 206.3,533.3 210,600 C213.7,666.7 218.7,668.3 232,700 C245.3,731.7 280.3,775.0 290,790"/>
<path d="M330,345 C324.7,353.3 305.5,380.8 298,395 C290.5,409.2 287.2,399.2 285,430 C282.8,460.8 282.5,541.7 285,580 C287.5,618.3 287.5,633.0 300,660 C312.5,687.0 338.3,720.3 360,742 C381.7,763.7 418.3,782.0 430,790"/>
<path d="M480,345 C470.8,348.8 437.5,358.8 425,368 C412.5,377.2 407.5,374.7 405,400 C402.5,425.3 404.2,486.7 410,520 C415.8,553.3 423.3,573.0 440,600 C456.7,627.0 483.3,661.7 510,682 C536.7,702.3 585.0,715.3 600,722"/>
<path class="t" d="M165,645 L290,580 L410,512 M360,745 L510,690 M290,432 L405,400"/>
<path class="t" d="M370,345 L365,372 M400,345 L395,366 M445,340 L440,362"/>
<path class="t" d="M330,345 C336.7,343.8 356.7,340.2 370,338 C383.3,335.8 397.5,332.5 410,332 C422.5,331.5 433.3,332.8 445,335 C456.7,337.2 474.2,343.3 480,345"/>
<path d="M480,345 L620,400 L590,470"/>
<path class="t" d="M440,380 L590,440"/>
<!-- arcs around circle -->
<path class="t" d="M480,0 C500.0,2.5 563.3,5.0 600,15 C636.7,25.0 673.3,40.8 700,60 C726.7,79.2 741.7,101.7 760,130 C778.3,158.3 800.0,196.7 810,230 C820.0,263.3 825.0,301.7 820,330 C815.0,358.3 800.0,381.7 780,400 C760.0,418.3 726.7,433.3 700,440 C673.3,446.7 638.3,441.7 620,440 C601.7,438.3 595.0,431.7 590,430"/>
<path class="t" d="M800,300 C798.3,316.7 801.7,371.7 790,400 C778.3,428.3 753.3,454.7 730,470 C706.7,485.3 673.3,492.0 650,492 C626.7,492.0 600.0,473.7 590,470"/>
<path class="t" d="M600,722 C616.7,728.3 650.0,740.3 700,760 C750.0,779.7 866.7,826.7 900,840"/>
</g>
<!-- C6: bottom-left -->
<g transform="translate(805,280) scale(0.167645)">
<path d="M765,482 C765.0,473.7 760.8,444.0 765,432 C769.2,420.0 779.2,412.8 790,410 C800.8,407.2 816.7,408.3 830,415 C843.3,421.7 862.5,432.5 870,450 C877.5,467.5 874.2,508.3 875,520"/>
<ellipse class="k" cx="810" cy="460" rx="25" ry="14" transform="rotate(20 810 460)"/>
<path d="M875,520 L1196,655"/>
<path d="M200,0 C202.5,10.0 205.0,38.3 215,60 C225.0,81.7 242.5,108.3 260,130 C277.5,151.7 306.7,173.3 320,190 C333.3,206.7 336.7,223.3 340,230"/>
<path class="t" d="M320,182 L372,140 M420,130 L520,40"/>
<path d="M290,0 C293.3,8.3 298.3,31.7 310,50 C321.7,68.3 341.7,96.7 360,110 C378.3,123.3 410.0,126.7 420,130"/>
<path d="M440,0 C445.0,6.7 456.7,30.0 470,40 C483.3,50.0 498.3,51.7 520,60 C541.7,68.3 586.7,85.0 600,90"/>
</g>
<!-- C7: bottom-right -->
<g transform="translate(955,300) scale(0.167645)">
<path d="M335,562 C335.0,553.7 330.8,524.7 335,512 C339.2,499.3 347.5,488.8 360,486 C372.5,483.2 396.7,486.0 410,495 C423.3,504.0 434.2,523.0 440,540 C445.8,557.0 444.2,587.5 445,597"/>
<ellipse class="k" cx="385" cy="535" rx="25" ry="14" transform="rotate(20 385 535)"/>
<path d="M670,345 L790,350"/>
<path d="M670,345 C668.3,349.5 658.3,352.8 660,372 C661.7,391.2 660.0,443.7 680,460 C700.0,476.3 763.3,468.3 780,470"/>
<path class="t" d="M610,470 L640,510 L780,500"/>
<path d="M600,560 L640,512"/>
<path d="M605,562 C617.5,565.8 657.5,583.7 680,585 C702.5,586.3 723.3,580.8 740,570 C756.7,559.2 771.7,536.7 780,520 C788.3,503.3 788.3,478.3 790,470"/>
</g>
<!-- C2: top-right tab -->
<g transform="translate(955,150) scale(0.167645)">
<path d="M352,142 L346,166 L330,175"/>
<path d="M360,140 L410,160 L520,210 L570,232 L575,252"/>
<path d="M410,160 C410.7,170.0 409.0,205.0 414,220 C419.0,235.0 425.7,241.7 440,250 C454.3,258.3 486.7,270.0 500,270 C513.3,270.0 516.7,260.0 520,250 C523.3,240.0 520.0,216.7 520,210"/>
<ellipse class="k" cx="462" cy="226" rx="25" ry="16" transform="rotate(20 462 226)"/>
<path class="t" d="M590,283 L650,300 M640,262 L600,290"/>
<path class="t" d="M810,570 L870,540"/>
</g>
<g>
<path d="M905.6,295.1 L1067.3,357.8"/>
<path class="t" d="M895.5,286.7 L1062.3,352"/>
<path d="M875.4,301.8 L1065.6,377.5"/>
<path class="t" d="M867.4,303.5 L1057.3,378.8"/>
<path d="M860.3,315.2 L1055.6,393.9"/>
<path class="t" d="M862,318.6 L1012,380.5"/>
</g>

<!-- 50_shield_top.svg -->
<!-- S1 -->
<g transform="translate(215,320) scale(0.167645)">
<path class="kk" d="M600,60 C610.0,65.8 643.3,87.3 660,95 C676.7,102.7 693.3,104.2 700,106"/>
<path class="k" d="M660,95 C666.7,96.8 683.3,95.2 700,106 C716.7,116.8 743.3,145.2 760,160 C776.7,174.8 785.0,186.7 800,195 C815.0,203.3 841.7,207.5 850,210"/>
<path d="M598,62 L95,487"/>
<path class="t" d="M642,114 L212,524 M674,140 L252,544"/>
<path d="M782,216 L406,575"/>
<path class="t" d="M820,240 L428,598"/>
<path class="t" d="M600,60 L645,112 L680,140 M660,95 L690,130"/>
<path d="M95,487 C90.5,490.5 73.8,495.8 68,508 C62.2,520.2 61.3,551.3 60,560"/>
<path d="M60,560 L60,811"/>
<path d="M98,488 L206,525 L252,544 L406,575"/>
<path class="t" d="M64,555 L188,600 L232,610"/>
<path class="t" d="M212,524 C209.2,530.0 199.0,547.3 195,560 C191.0,572.7 189.2,593.3 188,600"/>
<path class="t" d="M252,544 C249.3,549.2 239.3,564.0 236,575 C232.7,586.0 232.7,604.2 232,610"/>
<path class="t" d="M188,600 L188,811 M232,610 L232,811"/>
<path d="M320,740 L320,811"/>
<path class="t" d="M350,702 L350,811"/>
<path d="M406,575 C410.0,577.5 426.7,582.2 430,590 C433.3,597.8 434.0,609.5 426,622 C418.0,634.5 395.3,655.3 382,665 C368.7,674.7 355.5,674.2 346,680 C336.5,685.8 329.3,690.0 325,700 C320.7,710.0 320.8,733.3 320,740"/>
<path class="t" d="M404,572 C398.7,583.3 384.0,623.3 372,640 C360.0,656.7 338.7,666.7 332,672"/>
<path d="M430,590 L615,652"/>
<path class="t" d="M350,702 L520,770"/>
<path class="k" d="M614,650 C605.3,658.3 574.8,680.0 562,700 C549.2,720.0 542.3,751.5 537,770 C531.7,788.5 531.2,804.2 530,811"/>
<!-- scoop 1 -->
<path d="M850,250 C846.7,253.3 865.0,240.0 830,270 C795.0,300.0 678.3,394.2 640,430 C601.7,465.8 606.7,475.8 600,485"/>
<path d="M600,485 L730,545 L770,530"/>
<path d="M770,530 C808.3,508.3 953.3,431.3 1000,400 C1046.7,368.7 1036.7,355.7 1050,342 C1063.3,328.3 1075.0,322.0 1080,318"/>
<path class="t" d="M640,470 L890,290 M730,545 L1040,345"/>
<!-- tab 1 -->
<path class="k" d="M850,210 C853.0,204.5 859.7,183.7 868,177 C876.3,170.3 894.7,171.2 900,170"/>
<path class="k" d="M900,170 L1050,235"/>
<path class="k" d="M1050,235 C1054.2,240.5 1070.0,257.2 1075,268 C1080.0,278.8 1079.2,294.7 1080,300"/>
<path class="kk" d="M1080,300 L1196,350"/>
<path d="M850,250 C856.7,256.7 861.7,276.7 890,290 C918.3,303.3 991.7,322.5 1020,330 C1048.3,337.5 1050.0,337.5 1060,335 C1070.0,332.5 1076.7,318.3 1080,315"/>
<path class="t" d="M800,195 L830,240 L850,250 M830,205 L860,255 L890,290 M1020,330 L1050,300"/>
<ellipse cx="965" cy="250" rx="28" ry="16" transform="rotate(22 965 250)"/>
</g>
<!-- S2 -->
<g transform="translate(395,340) scale(0.167645)">
<path class="kk" d="M0,185 L680,460"/>
<path class="t" d="M0,235 L660,490"/>
<path class="k" d="M680,460 C681.7,454.5 684.2,433.7 690,427 C695.8,420.3 710.8,421.2 715,420"/>
<path class="k" d="M715,420 L870,490"/>
<path class="k" d="M870,490 C874.2,495.0 889.7,510.0 895,520 C900.3,530.0 900.8,545.0 902,550"/>
<path d="M660,490 C666.7,496.7 670.0,515.0 700,530 C730.0,545.0 810.0,571.7 840,580 C870.0,588.3 869.2,584.2 880,580 C890.8,575.8 900.8,559.2 905,555"/>
<path class="t" d="M840,580 L870,550 M680,460 L660,490"/>
<ellipse cx="788" cy="497" rx="28" ry="16" transform="rotate(22 788 497)"/>
<!-- scoop 2 -->
<path d="M665,490 C660.8,493.3 672.5,478.3 640,510 C607.5,541.7 506.7,641.7 470,680 C433.3,718.3 428.3,730.0 420,740"/>
<path d="M420,740 L545,795 L590,780"/>
<path d="M590,780 C633.3,750.0 800.0,633.3 850,600 C900.0,566.7 883.3,583.3 890,580"/>
<path class="t" d="M445,730 L700,535 M545,795 L850,590"/>
<!-- right corner -->
<path class="kk" d="M902,550 C911.7,555.0 938.7,563.3 960,580 C981.3,596.7 1010.0,625.0 1030,650 C1050.0,675.0 1066.7,703.2 1080,730 C1093.3,756.8 1105.0,797.5 1110,811"/>
<path d="M900,590 C910.0,595.3 940.0,605.0 960,622 C980.0,639.0 1005.0,669.0 1020,692 C1035.0,715.0 1042.5,740.2 1050,760 C1057.5,779.8 1062.5,802.5 1065,811"/>
</g>

<!-- 51_shield_mid.svg -->
<!-- long lines in target coords -->
<g>
<path d="M317.6,428.5 L467.6,491.4"/>
<path class="t" d="M273.7,438.4 L454.2,514.8"/>
</g>
<!-- S3: duct + upper meander -->
<g transform="translate(215,420) scale(0.167645)">
<path d="M60,214 L60,340"/>
<path class="t" d="M188,214 L188,380 M232,214 L232,395"/>
<path d="M320,214 L320,400"/>
<path class="t" d="M350,214 L350,410"/>
<path d="M60,340 C62.5,342.7 53.3,348.0 75,356 C96.7,364.0 162.5,380.7 190,388 C217.5,395.3 224.2,395.5 240,400 C255.8,404.5 277.5,412.5 285,415"/>
<path class="t" d="M66,330 L190,372 L236,384"/>
<path d="M285,415 C289.5,424.2 303.5,452.5 312,470 C320.5,487.5 330.5,500.0 336,520 C341.5,540.0 343.5,541.5 345,590 C346.5,638.5 345.0,774.2 345,811"/>
<path d="M320,408 C325.3,413.3 342.7,421.3 352,440 C361.3,458.7 370.5,495.0 376,520 C381.5,545.0 383.5,541.5 385,590 C386.5,638.5 385.0,774.2 385,811"/>
<path class="t" d="M300,412 C305.0,419.2 320.7,437.0 330,455 C339.3,473.0 350.2,497.5 356,520 C361.8,542.5 363.5,541.5 365,590 C366.5,638.5 365.0,774.2 365,811"/>
</g>
<!-- S7: U slot -->
<g transform="translate(300,400) scale(0.167645)">
<path class="k" d="M105,170 C97.5,176.7 71.7,191.7 60,210 C48.3,228.3 40.0,258.3 35,280 C30.0,301.7 30.8,330.0 30,340"/>
<path class="k" d="M250,235 C241.7,242.5 212.5,260.8 200,280 C187.5,299.2 180.0,323.3 175,350 C170.0,376.7 167.5,415.0 170,440 C172.5,465.0 180.0,485.0 190,500 C200.0,515.0 195.0,515.0 230,530 C265.0,545.0 366.7,579.2 400,590 C433.3,600.8 421.7,598.3 430,595 C438.3,591.7 445.8,590.8 450,570 C454.2,549.2 450.0,498.3 455,470 C460.0,441.7 466.7,420.0 480,400 C493.3,380.0 525.8,358.3 535,350"/>
<path class="t" d="M238,268 C232.5,276.7 212.7,291.3 205,320 C197.3,348.7 190.3,410.8 192,440 C193.7,469.2 205.3,482.5 215,495 C224.7,507.5 219.2,501.7 250,515 C280.8,528.3 370.3,564.5 400,575 C429.7,585.5 423.3,577.5 428,578"/>
<path class="t" d="M222,252 C216.0,260.0 196.3,283.7 186,300 C175.7,316.3 165.0,326.7 160,350 C155.0,373.3 153.0,413.7 156,440 C159.0,466.3 166.5,491.0 178,508 C189.5,525.0 188.0,526.0 225,542 C262.0,558.0 364.8,593.0 400,604 C435.2,615.0 430.0,607.3 436,608"/>
</g>
<!-- S8: middle shapes -->
<g transform="translate(260,470) scale(0.167645)">
<!-- S shape C -->
<path class="k" d="M405.8,238.4 C407.7,223.4 411.6,214.5 419.661,209.722 C427.8,205.0 417.3,196.3 454.405,210.008 C491.5,223.7 605.3,273.5 642.177,291.993 C679.1,310.5 667.2,309.3 675.653,320.932 C684.1,332.6 688.6,341.9 692.667,361.782 C696.7,381.6 691.3,413.6 700,440 C708.7,466.4 735.3,492.6 745,520 C754.7,547.4 757.4,585.8 758.259,604.603 C759.1,623.5 756.3,628.2 749.97,633.089 C743.6,637.9 758.0,648.2 720.309,633.693 C682.6,619.2 561.9,565.2 523.691,546.307 C485.5,527.4 499.1,530.3 491.167,520.482 C483.3,510.6 479.1,500.7 476.2,487.3 C473.3,473.9 478.4,457.9 474,440 C469.6,422.1 461.0,403.3 450,380 C439.0,356.7 415.4,323.6 408,300 C400.6,276.4 403.9,253.4 405.8,238.4 Z"/>
<path class="t" d="M426.7,250.7 C427.9,239.2 430.7,232.5 437.134,229.121 C443.5,225.7 432.4,217.6 465.08,230.369 C497.8,243.1 601.0,289.2 633.484,305.672 C666.0,322.1 653.5,319.7 660.239,329.042 C667.0,338.4 670.4,343.0 673.98,361.801 C677.6,380.6 673.3,415.0 682,442 C690.7,469.0 716.8,499.6 726,524 C735.2,548.4 736.3,574.0 737.178,588.586 C738.0,603.1 735.9,607.4 730.98,611.319 C726.0,615.2 739.8,624.3 707.423,611.81 C675.0,599.3 569.5,552.5 536.577,536.19 C503.7,519.9 516.7,522.6 510.163,513.787 C503.6,504.9 500.0,495.7 497.3,483.1 C494.6,470.5 498.6,456.2 494,438 C489.4,419.8 480.7,397.3 470,374 C459.3,350.7 437.2,318.6 430,298 C422.8,277.4 425.5,262.2 426.7,250.7 Z"/>
<!-- rectangle D -->
<path d="M780,197 Q790,190 802,196 L1000,290 Q1020,300 1020,322 L1020,490 Q1016,516 996,508 L790,420 Q770,410 770,395 L770,215 Q770,202 780,197 Z"/>
<rect class="t" x="740" y="200" width="15" height="72" rx="7"/>
<rect class="t" x="740" y="312" width="15" height="80" rx="7"/>
<rect class="t" x="1035" y="322" width="15" height="66" rx="7"/>
<rect class="t" x="1035" y="430" width="15" height="72" rx="7"/>
<rect class="t" x="862" y="202" width="72" height="15" rx="7" transform="rotate(24 898 210)"/>
<!-- long lines -->
<path class="t" d="M95,140 L260,210 M330,240 L410,272 M700,400 L1196,600"/>
<path class="t" d="M110,232 L265,296 M320,322 L440,372 M470,384 L690,475 M760,505 L1196,690"/>
<path class="t" d="M120,335 L300,410 M330,425 L480,487 M760,600 L1196,775"/>
<path class="t" d="M180,470 L480,600 M520,612 L900,770"/>
</g>
<g>
<path class="k" d="M303.9,455.9 C303.9,458.1 304.1,466.8 303.9,469.4 C303.7,472.0 303.4,471.3 302.797,471.726 C302.2,472.1 303.6,473.1 300.225,471.821 C296.9,470.6 286.0,465.5 282.675,464.279 C279.3,463.0 280.7,464.0 280.128,464.374 C279.5,464.8 279.2,464.6 279.084,466.699 C278.9,468.8 278.9,474.4 279.3,477 C279.7,479.6 280.0,480.4 281.5,482 C283.0,483.6 285.7,485.0 288.4,486.4 C291.1,487.8 295.3,488.6 297.7,490.5 C300.1,492.4 301.7,494.1 302.7,497.7 C303.7,501.3 302.3,507.1 303.9,511.9 C305.5,516.6 310.4,522.0 312.3,526.2 C314.2,530.4 314.5,533.9 315,537.1 C315.5,540.3 315.3,543.7 315.203,545.501 C315.1,547.3 314.8,547.4 314.151,547.871 C313.5,548.3 315.2,549.3 311.565,548.068 C307.9,546.9 296.1,541.9 292.435,540.732 C288.8,539.5 290.5,540.5 289.844,540.929 C289.2,541.4 288.9,540.0 288.779,543.299 C288.7,546.6 289.0,557.0 289.121,560.501 C289.3,564.0 289.4,563.1 289.739,564.36 C290.1,565.6 290.7,567.1 291.076,568.033 C291.5,569.0 291.6,569.3 292.093,569.95 C292.6,570.6 293.2,571.5 293.904,572.162 C294.6,572.8 294.3,572.9 296.254,573.79 C298.2,574.7 303.3,576.7 305.328,577.713 C307.4,578.7 307.6,579.0 308.574,579.796 C309.6,580.6 310.3,581.4 311.25,582.54 C312.2,583.7 313.3,584.1 314,586.5 C314.7,588.9 315.0,594.7 315.6,597 C316.2,599.3 316.8,599.2 317.415,600.025 C318.0,600.9 318.6,601.5 319.278,602.12 C320.0,602.7 318.1,602.0 321.646,603.709 C325.2,605.4 337.5,610.7 340.7,612.1"/>
<path class="t" d="M302.6,465.8 C299.7,464.7 288.5,460.5 284.9,459.3 C281.3,458.1 281.9,458.3 281,458.6 C280.1,458.9 279.5,460.2 279.2,461 C278.9,461.8 279.0,463.1 279,463.5"/>
<path class="t" d="M301,468.5 L285,462.3 M283.5,459 L282,463.5 M299.5,464.8 L298,470.5"/>
<path class="t" d="M313.8,542.8 C310.8,541.6 299.5,537.1 295.7,535.8 C291.9,534.5 292.1,534.9 291,535.2 C289.9,535.5 289.3,536.6 288.9,537.5 C288.5,538.4 288.7,540.0 288.7,540.5"/>
<path class="t" d="M312.5,545.8 L296,539.2 M294.5,535.6 L293,540.5 M310.5,541.6 L309,547"/>
<path class="t" d="M277.2,464 C277.2,466.3 276.9,474.7 277.3,478 C277.7,481.3 278.0,482.3 279.8,484 C281.6,485.7 285.2,487.0 288,488.4 C290.8,489.8 294.4,490.8 296.5,492.5 C298.6,494.2 299.8,495.2 300.7,498.5 C301.6,501.8 300.3,507.8 301.9,512.5 C303.5,517.2 308.5,522.8 310.3,527 C312.1,531.2 312.5,535.8 312.9,537.5"/>
<path class="t" d="M286.8,541 C286.9,545.0 286.3,559.5 287.2,565 C288.1,570.5 288.6,571.6 292,574.3 C295.4,577.0 304.5,579.0 307.8,581.2 C311.1,583.4 311.0,584.8 312,587.5 C313.0,590.2 312.7,594.7 313.6,597.5 C314.5,600.3 313.1,601.5 317.5,604.3 C321.9,607.0 336.2,612.4 340,614"/>
</g>

<!-- 52_shield_low.svg -->
<!-- S4: right top corner -->
<g transform="translate(395,440) scale(0.167645)">
<path class="kk" d="M1110,214 C1113.3,223.3 1125.8,249.0 1130,270 C1134.2,291.0 1134.2,249.8 1135,340 C1135.8,430.2 1135.0,732.5 1135,811"/>
<path d="M1065,214 C1068.8,221.7 1083.5,239.0 1088,260 C1092.5,281.0 1091.3,248.2 1092,340 C1092.7,431.8 1092.0,732.5 1092,811"/>
<path class="t" d="M1090,258 L1132,262"/>
<path d="M1090,258 L635,550"/>
<path d="M430,305 L900,22"/>
<!-- rounded corner -->
<path d="M430,305 C445.0,310.8 493.3,320.8 520,340 C546.7,359.2 572.5,393.3 590,420 C607.5,446.7 617.5,475.0 625,500 C632.5,525.0 634.2,549.7 635,570 C635.8,590.3 630.8,613.3 630,622"/>
<path class="k" d="M430,305 C422.0,312.5 395.0,330.8 382,350 C369.0,369.2 358.0,391.7 352,420 C346.0,448.3 345.3,493.3 346,520 C346.7,546.7 347.0,563.3 356,580 C365.0,596.7 382.7,610.0 400,620 C417.3,630.0 426.7,636.7 460,640 C493.3,643.3 571.7,643.0 600,640 C628.3,637.0 625.0,625.0 630,622"/>
<path d="M412,330 C406.7,338.3 387.3,363.3 380,380 C372.7,396.7 370.5,403.3 368,430 C365.5,456.7 361.3,513.3 365,540 C368.7,566.7 374.2,577.3 390,590 C405.8,602.7 425.0,610.7 460,616 C495.0,621.3 576.7,621.0 600,622"/>
<path class="t" d="M390,450 C396.7,453.3 418.3,458.3 430,470 C441.7,481.7 454.0,498.3 460,520 C466.0,541.7 465.0,586.7 466,600"/>
<path class="t" d="M398,340 C392.7,350.0 372.7,370.0 366,400 C359.3,430.0 359.3,500.0 358,520"/>
<path d="M0,310 L340,440"/>
<path class="t" d="M460,640 L456,720 M602,640 L606,722"/>
<path class="k" d="M345,722 C347.5,718.3 350.8,704.5 360,700 C369.2,695.5 383.3,691.7 400,695 C416.7,698.3 426.7,714.8 460,720 C493.3,725.2 571.7,729.3 600,726 C628.3,722.7 625.0,704.3 630,700"/>
<path class="t" d="M630,622 C630.3,628.3 632.0,647.0 632,660 C632.0,673.0 630.3,693.3 630,700"/>
</g>
<!-- S5: bottom-left -->
<g transform="translate(215,540) scale(0.167645)">
<path d="M345,95 C343.5,102.5 335.2,122.5 336,140 C336.8,157.5 341.0,180.0 350,200 C359.0,220.0 376.7,245.8 390,260 C403.3,274.2 423.3,280.8 430,285"/>
<path d="M430,285 L610,370 L760,435 L1040,545"/>
<path d="M385,95 C385.2,100.8 383.5,115.8 386,130 C388.5,144.2 392.7,162.5 400,180 C407.3,197.5 423.3,223.0 430,235 C436.7,247.0 438.3,249.2 440,252"/>
<path class="t" d="M440,252 L590,312 M430,240 L436,285"/>
<!-- U shape bottom of C' -->
<path class="k" d="M740,0 C743.3,13.3 750.0,59.2 760,80 C770.0,100.8 763.3,105.0 800,125 C836.7,145.0 945.0,185.0 980,200 C1015.0,215.0 1001.7,216.7 1010,215 C1018.3,213.3 1028.3,209.2 1030,190 C1031.7,170.8 1026.7,125.0 1020,100 C1013.3,75.0 998.3,56.7 990,40 C981.7,23.3 973.3,6.7 970,0"/>
<path class="t" d="M754,0 C757.0,12.0 763.0,53.3 772,72 C781.0,90.7 773.3,93.3 808,112 C842.7,130.7 947.3,170.0 980,184 C1012.7,198.0 998.0,196.7 1004,196 C1010.0,195.3 1015.7,195.3 1016,180 C1016.3,164.7 1012.3,126.7 1006,104 C999.7,81.3 986.0,61.3 978,44 C970.0,26.7 961.3,7.3 958,0"/>
<!-- slot -->
<path class="k" d="M760,330 C765.0,328.3 778.3,319.2 790,320 C801.7,320.8 798.3,321.7 830,335 C861.7,348.3 948.3,382.5 980,400 C1011.7,417.5 1011.7,420.0 1020,440 C1028.3,460.0 1025.0,502.5 1030,520 C1035.0,537.5 1046.7,540.8 1050,545"/>
<path d="M760,330 C758.0,336.7 748.0,353.3 748,370 C748.0,386.7 751.3,418.0 760,430 C768.7,442.0 793.3,440.0 800,442"/>
<path class="t" d="M770,328 L772,436 M792,322 L796,442"/>
<path d="M800,442 L1030,528"/>
<path class="t" d="M830,350 L1000,420"/>
<rect class="t" x="1080" y="308" width="15" height="64" rx="7"/>
<rect class="t" x="1080" y="418" width="15" height="64" rx="7"/>
</g>
<!-- S6: bottom-right -->
<g transform="translate(395,550) scale(0.167645)">
<path class="kk" d="M1135,155 C1135.0,194.2 1136.7,340.8 1135,390 C1133.3,439.2 1132.5,431.7 1125,450 C1117.5,468.3 1104.2,487.5 1090,500 C1075.8,512.5 1056.7,520.0 1040,525 C1023.3,530.0 998.3,529.2 990,530"/>
<path d="M1092,155 L1092,392"/>
<path class="t" d="M1092,392 L1132,396"/>
<path d="M1090,400 L705,577"/>
<path d="M990,530 L660,690"/>
<path class="k" d="M838,444 L1000,350 A12,12 0 0 1 1012,372 L850,466 A12,12 0 0 1 838,444 Z"/>
<!-- corner column -->
<path class="t" d="M460,0 L460,62 M610,0 L610,52"/>
<path class="k" d="M450,60 C461.7,63.3 496.7,78.0 520,80 C543.3,82.0 571.7,77.0 590,72 C608.3,67.0 623.3,53.7 630,50"/>
<path d="M630,50 C630.3,65.0 623.7,115.0 632,140 C640.3,165.0 668.7,176.7 680,200 C691.3,223.3 696.7,245.0 700,280 C703.3,315.0 700.0,388.3 700,410"/>
<path class="k" d="M345,60 C345.0,75.0 339.2,126.7 345,150 C350.8,173.3 367.5,185.0 380,200 C392.5,215.0 413.3,216.7 420,240 C426.7,263.3 416.7,315.0 420,340 C423.3,365.0 430.0,376.7 440,390 C450.0,403.3 465.0,412.5 480,420 C495.0,427.5 521.7,432.5 530,435"/>
<path class="t" d="M358,62 C358.0,76.0 352.3,124.3 358,146 C363.7,167.7 379.3,177.3 392,192 C404.7,206.7 427.0,210.0 434,234 C441.0,258.0 431.0,311.7 434,336 C437.0,360.3 443.0,368.3 452,380 C461.0,391.7 475.0,399.3 488,406 C501.0,412.7 523.0,417.7 530,420"/>
<path class="t" d="M372,40 C372.0,56.7 366.7,116.0 372,140 C377.3,164.0 391.3,169.7 404,184 C416.7,198.3 440.7,201.7 448,226 C455.3,250.3 448.0,312.7 448,330"/>
<path class="k" d="M530,422 C541.7,423.7 573.3,434.0 600,432 C626.7,430.0 675.0,413.7 690,410"/>
<path class="t" d="M470,120 C481.7,123.3 511.7,140.0 540,140 C568.3,140.0 623.3,123.3 640,120 M540,300 C553.3,307.5 593.3,339.2 620,345 C646.7,350.8 686.7,336.7 700,335"/>
<path class="t" d="M470,80 C470.8,93.3 466.7,135.0 475,160 C483.3,185.0 508.3,206.7 520,230 C531.7,253.3 540.8,268.3 545,300 C549.2,331.7 545.0,400.0 545,420"/>
<path d="M520,440 L520,530 M690,440 L690,520"/>
<path class="k" d="M420,520 C425.0,516.7 436.7,501.7 450,500 C463.3,498.3 481.7,502.5 500,510 C518.3,517.5 536.7,539.2 560,545 C583.3,550.8 615.8,549.2 640,545 C664.2,540.8 694.2,524.2 705,520"/>
<path d="M705,520 C705.2,531.7 710.2,568.3 706,590 C701.8,611.7 694.3,633.3 680,650 C665.7,666.7 643.3,681.7 620,690 C596.7,698.3 565.0,701.7 540,700 C515.0,698.3 488.3,688.3 470,680 C451.7,671.7 438.3,670.0 430,650 C421.7,630.0 421.7,581.7 420,560 C418.3,538.3 420.0,526.7 420,520"/>
<path class="t" d="M436,530 C436.3,548.3 432.3,617.5 438,640 C443.7,662.5 464.7,660.8 470,665 M452,520 C452.5,538.3 447.0,610.0 455,630 C463.0,650.0 485.0,645.0 500,640 C515.0,635.0 537.0,615.3 545,600 C553.0,584.7 547.5,556.7 548,548"/>
<path class="t" d="M560,580 C573.3,580.0 616.0,584.0 640,580 C664.0,576.0 693.3,560.0 704,556"/>
<!-- rectangle cutout 2 -->
<path d="M40,252 Q48,238 62,242 L250,320 Q282,334 283,354 L285,520 Q282,556 262,548 L60,470 Q40,462 40,440 Z"/>
<path class="t" d="M40,350 L285,445"/>
<rect class="t" x="122" y="252" width="72" height="15" rx="7" transform="rotate(22 158 260)"/>
<rect class="t" x="0" y="258" width="14" height="56" rx="7"/>
<rect class="t" x="0" y="362" width="14" height="60" rx="7"/>
<rect class="t" x="300" y="368" width="15" height="64" rx="7"/>
<rect class="t" x="300" y="478" width="15" height="64" rx="7"/>
<path class="t" d="M0,50 L345,175 M0,130 L410,285 M0,460 L420,625"/>
<path d="M-34,485.6 L430,665"/>
</g>

<!-- 60_clips.svg -->
<g transform="translate(140,560) scale(0.250836)">
<!-- clip 11 -->
<path style="stroke-width:2" d="M185,80 C190.7,78.4 200.2,83.0 205.194,84.0388 C210.2,85.1 211.7,85.6 214.858,86.4886 C218.0,87.4 208.1,83.4 224.333,89.5898 C240.6,95.7 293.0,115.5 312.333,123.436 C331.6,131.4 331.9,132.5 340.06,137.496 C348.2,142.5 356.6,149.7 361.2,153.55 C365.8,157.4 364.8,156.5 367.434,160.304 C370.1,164.1 374.7,170.8 376.93,176.591 C379.2,182.4 380.3,176.4 381,195 C381.7,213.6 381.7,268.4 381,288 C380.3,307.6 379.1,305.6 376.815,312.645 C374.5,319.7 369.2,326.8 367.05,330.15 C364.9,333.5 367.3,331.4 363.95,332.85 C360.6,334.3 353.4,338.2 347.15,338.754 C340.9,339.3 348.1,343.4 326.551,336.331 C305.0,329.2 240.3,305.0 217.828,296.137 C195.3,287.3 198.8,287.6 191.474,283.051 C184.1,278.5 177.1,271.7 173.75,268.7 C170.4,265.7 173.0,268.9 171.25,265.3 C169.5,261.7 165.2,253.8 163.375,247.09 C161.5,240.4 160.6,243.7 160,225 C159.4,206.3 159.4,154.1 160,135 C160.6,115.9 161.5,117.5 163.375,110.625 C165.2,103.8 167.6,98.9 171.25,93.75 C174.9,88.6 179.3,81.6 185,80 Z"/>
<path class="k" d="M205,140 C207.8,124.0 218.7,139.8 222,140 C225.3,140.2 224.2,140.5 224.938,141.192 C225.7,141.9 225.9,140.5 226.458,143.974 C227.1,147.4 228.0,158.5 228.542,162.026 C229.1,165.6 229.3,164.3 229.981,165.244 C230.7,166.1 220.7,162.6 232.727,167.452 C244.8,172.3 290.2,190.1 302.273,194.548 C314.3,199.0 304.4,194.8 305.173,194.4 C306.0,194.0 306.3,193.9 306.97,192.119 C307.6,190.4 308.4,185.7 309.03,183.881 C309.7,182.1 310.1,182.0 310.863,181.494 C311.7,181.0 311.1,180.5 313.846,181.099 C316.6,181.7 324.5,183.9 327.154,184.901 C329.8,185.9 329.2,186.0 329.892,186.869 C330.6,187.7 330.3,173.3 331.152,189.997 C332.0,206.7 334.4,270.4 334.848,287.003 C335.3,303.6 334.4,289.0 333.79,289.51 C333.2,290.0 333.6,290.5 331.119,290.03 C328.6,289.6 321.4,287.8 318.881,286.97 C316.4,286.1 316.8,285.9 316.074,285.094 C315.4,284.3 315.3,287.9 314.701,282.011 C314.1,276.2 312.9,255.9 312.299,249.989 C311.7,244.1 311.7,247.6 311.006,246.681 C310.4,245.7 321.3,250.6 308.388,244.282 C295.5,238.0 246.5,214.6 233.612,208.718 C220.7,202.8 231.6,208.3 230.943,208.707 C230.3,209.1 230.3,206.3 229.533,210.973 C228.8,215.7 227.2,232.2 226.467,237.027 C225.7,241.8 225.7,239.1 224.942,239.751 C224.2,240.4 224.7,240.7 222.005,240.81 C219.3,240.9 211.6,240.5 208.995,240.19 C206.4,239.9 206.9,239.6 206.199,238.857 C205.5,238.2 205.2,252.5 205,236 C204.8,219.5 202.2,156.0 205,140 Z" style="stroke-width:1.8"/>
<path class="t" d="M212,146 L212,236 M322,190 L324,282 M232,214 L308,250"/>
<path style="fill:#777;stroke-width:1.2" d="M255,98 L262,92 L305,108 L303,120 Z"/>
<path style="fill:#777;stroke-width:1.2" d="M381,182 L400,186 L400,226 L388,232 L381,226 Z"/>
<path style="fill:#777;stroke-width:1.2" d="M381,256 L400,260 L400,298 L388,304 L381,298 Z"/>
<!-- clip 12 -->
<path style="stroke-width:2" d="M140,505 C145.7,503.4 155.2,508.0 160.194,509.039 C165.2,510.1 166.7,510.5 169.871,511.456 C173.1,512.4 162.8,508.4 179.375,514.48 C195.9,520.5 249.7,540.0 269.188,547.82 C288.6,555.7 288.4,556.6 296.071,561.476 C303.7,566.4 311.3,573.7 315.05,577.1 C318.8,580.5 316.8,578.4 318.867,582.101 C320.9,585.8 325.3,593.2 327.36,599.23 C329.4,605.2 330.4,599.2 331,618 C331.6,636.8 331.7,692.2 331,712 C330.3,731.8 329.1,729.6 326.815,736.51 C324.5,743.5 319.2,750.4 317.05,753.7 C314.9,757.0 317.3,755.0 313.95,756.3 C310.6,757.6 303.4,761.3 297.203,761.75 C291.0,762.2 297.2,766.0 276.728,758.868 C256.3,751.7 196.0,727.7 174.581,718.785 C153.1,709.8 155.6,709.9 148.129,705.246 C140.7,700.6 133.3,693.7 129.85,690.7 C126.4,687.7 129.0,690.9 127.15,687.3 C125.3,683.7 120.7,675.8 118.645,669.09 C116.6,662.4 115.6,665.2 115,647 C114.4,628.8 114.4,578.6 115,560 C115.6,541.4 116.5,542.5 118.375,535.625 C120.2,528.8 122.6,523.9 126.25,518.75 C129.9,513.6 134.3,506.6 140,505 Z"/>
<path class="k" d="M155,555 C157.0,536.8 168.8,558.1 172.109,559.074 C175.4,560.1 174.2,560.1 174.897,560.92 C175.6,561.7 175.6,555.5 176.214,563.994 C176.9,572.5 178.1,603.5 178.786,612.006 C179.4,620.5 179.4,614.3 180.069,615.197 C180.7,616.1 169.3,612.4 182.777,617.317 C196.3,622.2 247.7,640.2 261.223,644.683 C274.8,649.2 263.3,644.9 263.945,644.407 C264.6,644.0 264.6,648.7 265.26,642.008 C265.9,635.3 267.1,610.7 267.74,603.992 C268.4,597.2 268.4,602.0 269.071,601.542 C269.8,601.1 269.3,600.6 271.831,601.149 C274.3,601.7 281.7,603.9 284.169,604.851 C286.7,605.8 286.2,606.0 286.882,606.855 C287.5,607.7 287.4,591.6 288.104,609.999 C288.8,628.4 290.6,698.8 290.896,717.001 C291.2,735.3 290.4,719.0 289.808,719.495 C289.2,720.0 289.5,720.4 287.132,719.982 C284.8,719.6 278.4,717.7 275.868,717.018 C273.4,716.3 273.3,716.3 272.044,715.867 C270.8,715.5 286.3,721.6 268.277,714.537 C250.2,707.5 181.6,680.7 163.723,673.463 C145.9,666.2 161.7,672.1 161.066,671.24 C160.4,670.3 160.8,687.4 159.829,668.004 C158.8,648.6 153.0,573.2 155,555 Z" style="stroke-width:1.8"/>
<path class="t" d="M163,562 L166,664 L276,706 M280,606 L282,712"/>
<path style="fill:#777;stroke-width:1.2" d="M215,518 L222,512 L265,528 L263,542 Z"/>
<path style="fill:#777;stroke-width:1.2" d="M331,606 L350,610 L350,648 L338,654 L331,648 Z"/>
<path style="fill:#777;stroke-width:1.2" d="M331,680 L350,684 L350,720 L338,726 L331,720 Z"/>
</g>

<!-- 90_labels.svg -->
<g class="labels" style="filter:grayscale(1)">
<line class="ld" x1="198.8" y1="80.5" x2="198.8" y2="131.6"/>
<line class="ld" x1="328.5" y1="80.5" x2="328.5" y2="120.3"/>
<line class="ld" x1="85.9" y1="154.1" x2="85.9" y2="204.3"/>
<line class="ld" x1="151" y1="231.7" x2="151" y2="274.2"/>
<line class="ld" x1="427.8" y1="191.9" x2="464.7" y2="215.3"/>
<line class="ld" x1="488.5" y1="202.7" x2="518.6" y2="243.3"/>
<line class="ld" x1="408.2" y1="275.5" x2="459.9" y2="290.5"/>
<line class="ld" x1="627.5" y1="185.7" x2="662.8" y2="223.2"/>
<line class="ld" x1="759.5" y1="186.3" x2="795.3" y2="222.6"/>
<line class="ld" x1="1171.9" y1="286.6" x2="1104" y2="317.1"/>
<line class="ld" x1="930.9" y1="392.8" x2="952.3" y2="437.6"/>
<line class="ld" x1="815.2" y1="474.4" x2="849.9" y2="508.5"/>
<line class="ld" x1="743.3" y1="500.6" x2="768.8" y2="554.6"/>
<line class="ld" x1="242.3" y1="638.3" x2="291.8" y2="665.4"/>
<line class="ld" x1="231.6" y1="730.6" x2="280.5" y2="748.6"/>
<line class="ld" x1="586.6" y1="613.4" x2="637" y2="637"/>
<text x="199.8" y="77.6">3</text>
<text x="330.5" y="77.6">2</text>
<text x="84.4" y="228.1">1</text>
<text x="151.7" y="302.0">2</text>
<text x="416.5" y="200.2">2</text>
<text x="484.7" y="198.2">4</text>
<text x="395.7" y="283.0">2</text>
<text x="615.4" y="192.2">8</text>
<text x="750.0" y="196.0">7</text>
<text x="1185.5" y="296.7">6</text>
<text x="960.7" y="464.8">7</text>
<text x="862.6" y="523.2">5</text>
<text x="782.0" y="573.0">9</text>
<text x="659.8" y="653.0">10</text>
<text x="313.0" y="676.5">11</text>
<text x="302.5" y="759.4">12</text>
</g>

</svg>
</body></html>
